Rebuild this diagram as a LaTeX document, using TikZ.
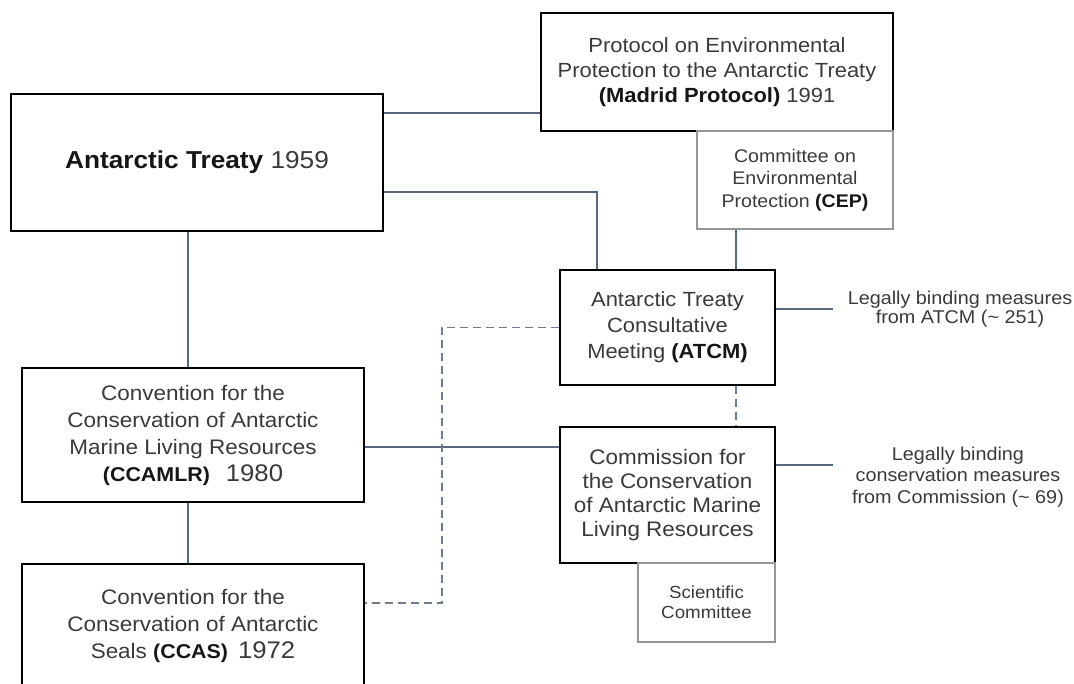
\documentclass[tikz,border=0pt]{standalone}
\usepackage{fontspec}
\setmainfont{Liberation Sans}[FakeStretch=1.07]
\definecolor{connc}{RGB}{88,104,124}
\definecolor{dashc}{RGB}{110,124,145}
\definecolor{txt}{RGB}{58,58,58}
\definecolor{bld}{RGB}{22,22,22}
\definecolor{lightbox}{RGB}{150,150,150}
\newcommand{\bb}[1]{{\bfseries\color{bld}#1}}
\tikzset{
  mainbox/.style={draw=black, line width=2pt, fill=white, inner sep=0pt, align=center, text=txt},
  subbox/.style={draw=lightbox, line width=1.4pt, fill=white, inner sep=0pt, align=center, text=txt},
  conn/.style={draw=connc, line width=1.5pt},
  dashconn/.style={draw=dashc, line width=1.3pt, dash pattern=on 8pt off 5pt},
  note/.style={align=center, text=txt, inner ysep=0pt, inner xsep=15pt}
}
\begin{document}
\begin{tikzpicture}[x=1pt,y=-1pt]
\useasboundingbox (0,0) rectangle (1074,684);
\clip (0,0) rectangle (1074,684);
\fill[white] (0,0) rectangle (1074,684);

% boxes
\node[mainbox, minimum width=372pt, minimum height=137pt, font=\fontsize{24.5}{29}\selectfont] (AT) at (197,162.5)
  {\bb{Antarctic Treaty} 1959};
\node[mainbox, minimum width=352pt, minimum height=118pt, font=\fontsize{20.5}{25}\selectfont] (Madrid) at (717,72)
  {Protocol on Environmental\\Protection to the Antarctic Treaty\\\bb{(Madrid Protocol)} 1991};
\node[subbox, minimum width=196pt, minimum height=98pt, font=\fontsize{18.3}{22.5}\selectfont] (CEP) at (795,180)
  {Committee on\\Environmental\\Protection \bb{(CEP)}};
\node[mainbox, minimum width=215pt, minimum height=115pt, font=\fontsize{20.5}{26}\selectfont] (ATCM) at (667.5,327.5)
  {Antarctic Treaty\\Consultative\\Meeting \bb{(ATCM)}};
\node[mainbox, minimum width=215pt, minimum height=136pt, font=\fontsize{21}{24}\selectfont] (Comm) at (667.5,495)
  {Commission for\\the Conservation\\of Antarctic Marine\\Living Resources};
\node[subbox, minimum width=137pt, minimum height=79pt, font=\fontsize{17.5}{20}\selectfont] (Sci) at (706.5,602.5)
  {Scientific\\Committee};
\node[mainbox, minimum width=342pt, minimum height=134pt, font=\fontsize{21}{27}\selectfont] (CCAMLR) at (193,435)
  {Convention for the\\Conservation of Antarctic\\Marine Living Resources\\{\fontsize{20}{27}\selectfont\bb{(CCAMLR)}}\hspace{16pt}{\fontsize{24}{27}\selectfont 1980}};
\node[mainbox, minimum width=342pt, minimum height=124pt, font=\fontsize{21}{27}\selectfont] (CCAS) at (193,626)
  {Convention for the\\Conservation of Antarctic\\Seals {\fontsize{20}{27}\selectfont\bb{(CCAS)}}\hspace{10pt}{\fontsize{24}{27}\selectfont 1972}};

% notes
\node[note, font=\fontsize{18.5}{18.5}\selectfont] (L1) at (960,309)
  {Legally binding measures\\from ATCM (\textasciitilde\ 251)};
\node[note, inner xsep=19pt, font=\fontsize{18.5}{21.5}\selectfont] (L2) at (958,477)
  {Legally binding\\conservation measures\\from Commission (\textasciitilde\ 69)};

% connectors
\draw[conn] (AT.east |- 0,113) -- (Madrid.west |- 0,113);
\draw[conn] (AT.east |- 0,192) -| (ATCM.north -| 597,0);
\draw[conn] (AT.south -| 188,0) -- (CCAMLR.north -| 188,0);
\draw[conn] (CEP.south -| 736,0) -- (ATCM.north -| 736,0);
\draw[conn] (ATCM.east |- L1.west) -- (L1.west);
\draw[conn] (Comm.east |- 0,465) -- (L2.west |- 0,465);
\draw[conn] (CCAMLR.east |- 0,447) -- (Comm.west |- 0,447);
\draw[conn] (CCAMLR.south -| 188,0) -- (CCAS.north -| 188,0);
\draw[dashconn] (ATCM.west) -- (442,327.5) -- (442,603) -- (CCAS.east |- 0,603);
\draw[dashconn] (ATCM.south -| 736,0) -- (Comm.north -| 736,0);
\end{tikzpicture}
\end{document}
